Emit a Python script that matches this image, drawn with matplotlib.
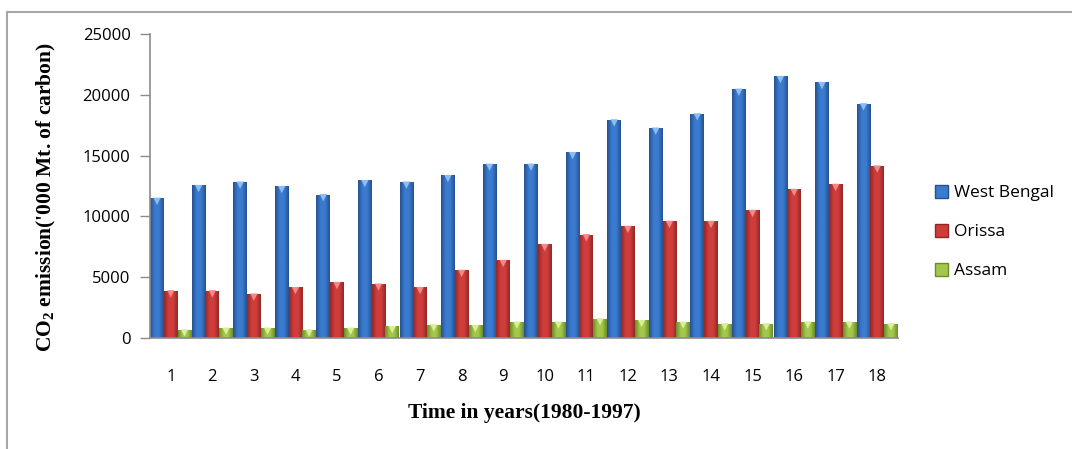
import numpy as np
import matplotlib
matplotlib.use("Agg")
import matplotlib.pyplot as plt
from matplotlib.colors import LinearSegmentedColormap
from matplotlib.patches import Patch
from matplotlib.lines import Line2D

plt.rcParams['font.family'] = ['Open Sans', 'DejaVu Sans']
plt.rcParams['mathtext.fontset'] = 'custom'
plt.rcParams['mathtext.rm'] = 'Liberation Serif'
plt.rcParams['mathtext.bf'] = 'Liberation Serif:bold'

# CO2 emission ('000 Mt. of carbon), 1980-1997
years = list(range(1, 19))
west_bengal = [11500, 12550, 12830, 12470, 11800, 12960, 12830, 13370, 14300,
               14300, 15260, 17950, 17270, 18440, 20470, 21510, 21020, 19270]
orissa = [3890, 3890, 3620, 4160, 4570, 4440, 4160, 5570, 6390,
          7700, 8500, 9190, 9600, 9600, 10500, 12230, 12640, 14150]
assam = [680, 820, 820, 680, 820, 950, 1090, 1040, 1320,
         1320, 1590, 1450, 1320, 1180, 1180, 1320, 1320, 1180]

series = [
    ("West Bengal", west_bengal, "#27518e", "#3a7bcf", "#8cbcf0"),
    ("Orissa", orissa, "#922826", "#cf3d3b", "#f08a88"),
    ("Assam", assam, "#6c8c28", "#a3c74c", "#d8ef98"),
]

fig = plt.figure(figsize=(10.72, 4.49), dpi=100)
ax = fig.add_axes([0.1399, 0.2472, 0.6978, 0.6771])

x = np.arange(1, 19)
width = 0.33
offsets = [-0.33, 0.0, 0.33]
grad = np.linspace(0, 1, 64).reshape(1, -1)

for (name, vals, dark, mid, light), off in zip(series, offsets):
    bars = ax.bar(x + off, vals, width, color=mid, edgecolor='none', zorder=2)
    cmap = LinearSegmentedColormap.from_list(name, [dark, mid, mid, dark])
    for b in bars:
        x0, y0 = b.get_xy()
        im = ax.imshow(grad, cmap=cmap, aspect='auto', zorder=2.5,
                       extent=[x0, x0 + b.get_width(), y0, y0 + b.get_height()])
        im.set_clip_path(b)
    # bevelled caps on top of each column
    ax.scatter(x + off, np.array(vals) - 260, marker='v', s=28, color=light,
               edgecolor='none', zorder=3)

ax.set_xlim(0.5, 18.5)
ax.set_ylim(0, 25000)
ax.set_yticks(range(0, 25001, 5000))
ax.set_xticks(x)
ax.set_xticklabels([str(v) for v in years])
ax.tick_params(axis='y', length=7, width=1, color='#8c8c8c', labelsize=12,
               pad=7)
ax.tick_params(axis='x', length=0, labelsize=12, pad=22)

for side in ['top', 'right']:
    ax.spines[side].set_visible(False)
for side in ['left', 'bottom']:
    ax.spines[side].set_color('#8c8c8c')
    ax.spines[side].set_linewidth(1.2)

ax.set_ylabel(r"CO$_\mathbf{2}$ emission('000 Mt. of carbon)", family='Liberation Serif',
              fontweight='bold', fontsize=15.5)
ax.yaxis.set_label_coords(-0.123, 0.462)
ax.set_xlabel("Time in years(1980-1997)", family='Liberation Serif',
              fontweight='bold', fontsize=15.5, labelpad=13)

handles = [Patch(facecolor=mid, edgecolor=dark, label=name)
           for name, _, dark, mid, _ in series]
fig.legend(handles=handles, loc='center left', bbox_to_anchor=(0.858, 0.483),
           frameon=False, fontsize=12.5, labelspacing=1.3, handlelength=0.75,
           handleheight=0.75, handletextpad=0.35)

# chart frame
fig.add_artist(Line2D([7 / 1072, 1], [1 - 12 / 449] * 2, color='#a6a6a6', lw=1.5))
fig.add_artist(Line2D([7 / 1072] * 2, [0, 1 - 12 / 449], color='#a6a6a6', lw=1.5))

fig.savefig("out.png", dpi=100)
